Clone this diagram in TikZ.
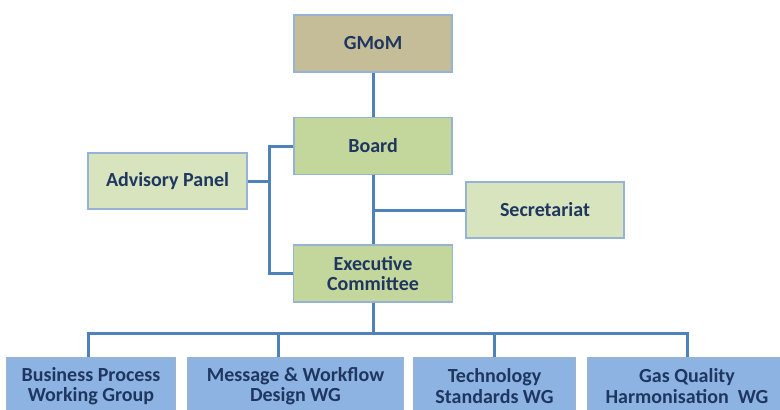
\documentclass[tikz,border=0pt]{standalone}
\usepackage{fontspec}
\setmainfont{Carlito}
\usetikzlibrary{positioning,calc}

\definecolor{tanfill}{HTML}{C4BD97}
\definecolor{greenfill}{HTML}{C3D69B}
\definecolor{palefill}{HTML}{D7E4BD}
\definecolor{bluefill}{HTML}{8DB3E2}
\definecolor{edgeblue}{HTML}{95B3D7}
\definecolor{linkblue}{HTML}{4F81BD}
\definecolor{textnavy}{HTML}{1F3660}

\begin{document}
\begin{tikzpicture}[%
        node distance=2cm,
        on grid,
        box/.style={draw=edgeblue, line width=1.2pt, minimum width=158pt,
            minimum height=57pt, align=center, text=textnavy, inner xsep=2pt,
            font=\fontsize{20}{20.5}\selectfont\bfseries},
        link/.style={draw=linkblue, line width=3pt}
        ]

        \clip (0,0) rectangle (780pt,-410pt);
        \fill[white] (0,0) rectangle (780pt,-410pt);

        \node[box, fill=tanfill] (gmom) at (373pt,-43.5pt) {GMoM};
        \node[box, fill=greenfill] (board) [below=102.5pt of gmom] {Board};
        \node[box, fill=greenfill, minimum width=159pt] (exec) [below=127.5pt of board] {Executive\\Committee};
        \node[box, fill=palefill, minimum width=159pt, minimum height=56pt] (adv) [below left=35pt and 205.5pt of board] {Advisory Panel};
        \node[box, fill=palefill, minimum height=56pt] (sec) [below right=64pt and 172pt of board] {Secretariat};

        \node[box, fill=bluefill, minimum width=168pt, minimum height=56pt] (bp) [below left=112.5pt and 282pt of exec] {Business Process\\Working Group};
        \node[box, fill=bluefill, minimum width=215pt, minimum height=56pt] (msg) [below left=112.5pt and 77.5pt of exec] {Message \& Workflow\\Design WG};
        \node[box, fill=bluefill, minimum width=161pt, minimum height=56pt] (tech) [below right=112.5pt and 121.5pt of exec] {Technology\\Standards WG};
        \node[box, fill=bluefill, minimum width=198pt, minimum height=56pt] (gas) [below right=112.5pt and 314pt of exec] {Gas Quality\\Harmonisation~~WG};

        \coordinate (brk) at ($(board.west)+(-24pt,0)$);
        \coordinate (bus) at ($(exec.south)+(0,-31pt)$);

        \path[link] (gmom) -- (board);
        \path[link] (board) -- (exec);
        \path[link] (sec.west) -- (sec.west -| board.south);
        \path[link] (board.west) -- (brk) |- (exec.west);
        \path[link] (adv.east) -- (adv.east -| brk);
        \path[link] (exec.south) -- (bus);
        \path[link] ([xshift=-3pt]bp.north) |- (bus) -| (gas.north);
        \path[link] ([xshift=-17pt]msg.north) -- ([xshift=-17pt]msg.north |- bus);
        \path[link] (tech.north) -- (tech.north |- bus);

        \end{tikzpicture}
\end{document}
